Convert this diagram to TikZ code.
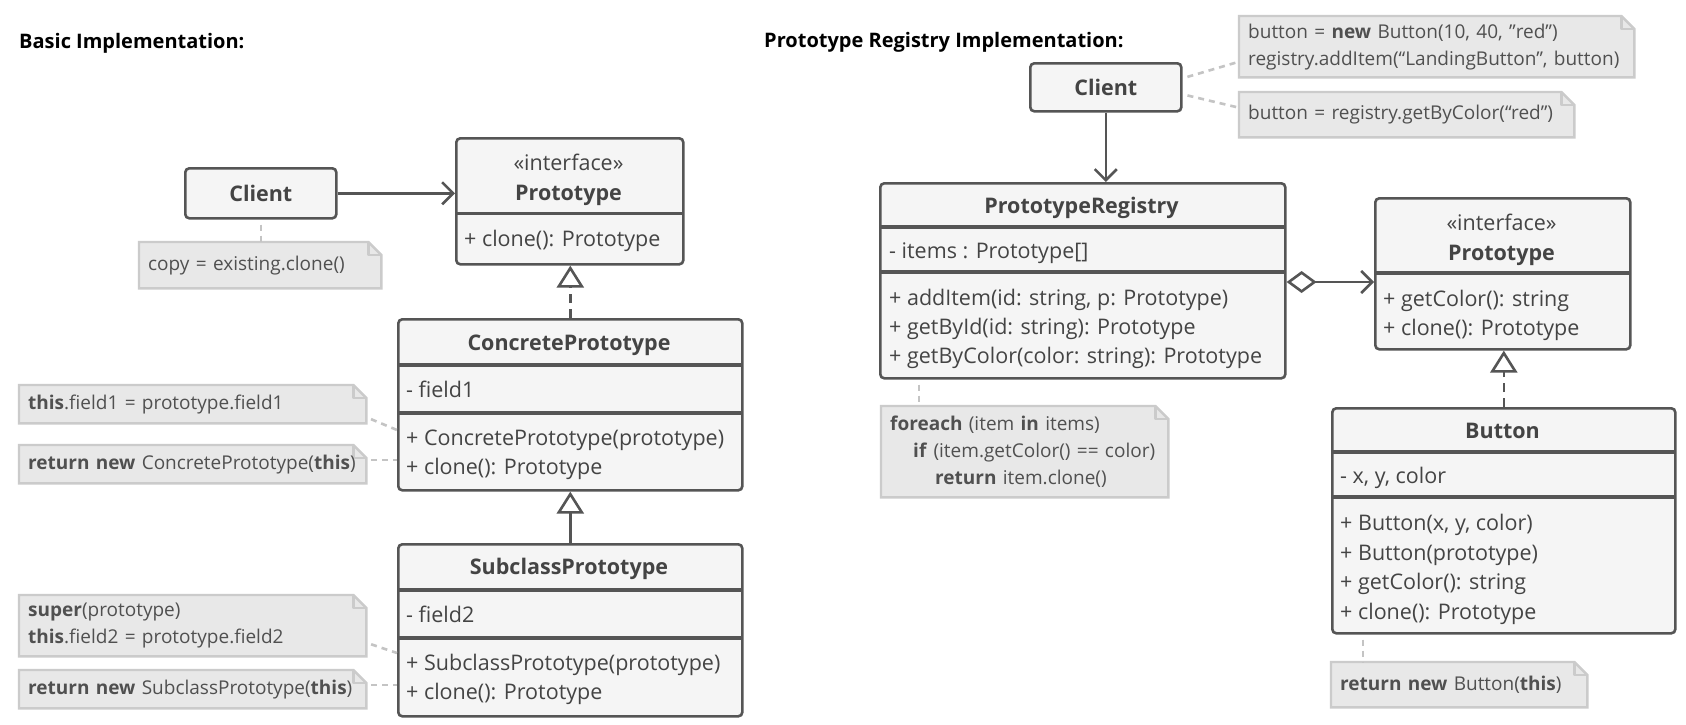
\documentclass[tikz,border=0pt]{standalone}
\usepackage{fontspec}
\setmainfont{Open Sans}
\usetikzlibrary{arrows.meta}
\pgfdeclarelayer{background}
\pgfsetlayers{background,main}
\definecolor{boxline}{HTML}{555555}
\definecolor{boxfill}{HTML}{F5F5F5}
\definecolor{boxtext}{HTML}{444444}
\definecolor{notefill}{HTML}{E8E8E8}
\definecolor{noteline}{HTML}{CBCBCB}
\definecolor{notetext}{HTML}{505050}
\definecolor{dotline}{HTML}{C4C4C4}
\newcommand\boxfont{\fontsize{21.5}{29}\selectfont}
\newcommand\notefont{\fontsize{19}{27}\selectfont}
\newcommand\notefold[1]{%
  \begin{pgfonlayer}{background}
  \draw[notebg] (#1.north west) -- ([xshift=-13pt]#1.north east) -- ([yshift=-13pt]#1.north east) -- (#1.south east) -- (#1.south west) -- cycle;
  \draw[notebg,fill=none,line join=round] ([xshift=-13pt]#1.north east) -- ([xshift=-13pt,yshift=-13pt]#1.north east) -- ([yshift=-13pt]#1.north east);
  \end{pgfonlayer}}
\begin{document}
\begin{tikzpicture}[x=1pt,y=-1pt,
  cls/.style={draw=boxline, fill=boxfill, line width=2.6pt, rounded corners=4pt, inner sep=0pt, anchor=north west},
  divider/.style={draw=boxline, line width=3.4pt},
  htxt/.style={inner sep=0pt, text height=0.71em, text depth=0pt, font=\boxfont\bfseries, text=boxtext, anchor=center, yshift=-5pt},
  mtxt/.style={inner sep=0pt, text height=0.71em, text depth=0pt, font=\boxfont, text=boxtext, anchor=west, yshift=-5pt},
  ctxt/.style={inner sep=0pt, text height=0.71em, text depth=0pt, font=\boxfont, text=boxtext, anchor=center, yshift=-5pt},
  note/.style={anchor=north west, inner xsep=9pt, inner ysep=0pt, align=left, font=\notefont, text=notetext},
  notebg/.style={draw=noteline, fill=notefill, line width=2.4pt},
  titletxt/.style={inner sep=0pt, anchor=west, font=\fontsize{20}{24}\selectfont\bfseries, text=black},
  assoc/.style={draw=boxline, line width=2.6pt, -{Straight Barb[length=11pt,width=22pt]}},
  inherit/.style={draw=boxline, line width=2.6pt, -{Triangle[open,length=22pt,width=27pt,fill=white]}},
  realize/.style={inherit, dash pattern=on 9pt off 6pt},
  aggr/.style={draw=boxline, line width=2.6pt, {Diamond[open,length=30pt,width=22pt,fill=white]}-{Straight Barb[length=11pt,width=22pt]}},
  noteconn/.style={draw=dotline, line width=2.6pt, dash pattern=on 6pt off 5pt, dash phase=6pt},
]
\begin{pgfonlayer}{background}
\fill[white] (0,0) rectangle (1686,724);
\end{pgfonlayer}
\useasboundingbox (0,0) rectangle (1686,724);

% ---------------- titles
\node[titletxt] (title1) at (19,43) {Basic Implementation:};
\node[titletxt] (title2) at (764,42) {Prototype Registry Implementation:};

% ---------------- left: Client
\node[cls, minimum width=151pt, minimum height=50pt] (clientL) at (184,167) {};
\node[htxt] (clientLt) at (clientL.center) {Client};

% ---------------- left: Prototype
\node[cls, minimum width=227pt, minimum height=126pt] (protoL) at (455,137) {};
\draw[divider] (455,213.5) -- (682,213.5);
\node[ctxt] (protoLs) at (568.5,162) {«interface»};
\node[htxt] (protoLh) at (568.5,192) {Prototype};
\node[mtxt] (protoLm1) at (464,238) {+ clone(): Prototype};

% ---------------- left: ConcretePrototype
\node[cls, minimum width=344pt, minimum height=171pt] (cp) at (397,318) {};
\draw[divider] (397,365) -- (741,365);
\draw[divider] (397,413) -- (741,413);
\node[htxt] (cph) at (569,341.5) {ConcretePrototype};
\node[mtxt] (cpf) at (406,389) {- field1};
\node[mtxt] (cpm1) at (406,437) {+ ConcretePrototype(prototype)};
\node[mtxt] (cpm2) at (406,466) {+ clone(): Prototype};

% ---------------- left: SubclassPrototype
\node[cls, minimum width=344pt, minimum height=172pt] (sp) at (397,543) {};
\draw[divider] (397,590) -- (741,590);
\draw[divider] (397,638) -- (741,638);
\node[htxt] (sph) at (569,566) {SubclassPrototype};
\node[mtxt] (spf) at (406,614) {- field2};
\node[mtxt] (spm1) at (406,662) {+ SubclassPrototype(prototype)};
\node[mtxt] (spm2) at (406,691) {+ clone(): Prototype};

% ---------------- left notes
\node[note, minimum width=242pt, minimum height=46pt, text width=224pt] (cn) at (139,242) {copy = existing.clone()};
\node[note, minimum width=347pt, minimum height=38pt, text width=329pt] (n1) at (19,385) {\textbf{this}.field1 = prototype.field1};
\node[note, minimum width=347pt, minimum height=38pt, text width=329pt] (n2) at (19,445) {\textbf{return new} ConcretePrototype(\textbf{this})};
\node[note, minimum width=347pt, minimum height=61pt, text width=329pt] (n3) at (19,595) {\textbf{super}(prototype)\\\textbf{this}.field2 = prototype.field2};
\node[note, minimum width=347pt, minimum height=38pt, text width=329pt] (n4) at (19,670) {\textbf{return new} SubclassPrototype(\textbf{this})};
\notefold{cn}\notefold{n1}\notefold{n2}\notefold{n3}\notefold{n4}

\coordinate (cpA) at (397,430);
\coordinate (cpB) at (397,460);
\coordinate (spA) at (397,653);
\coordinate (spB) at (397,685);

% ---------------- left connectors
\draw[assoc] (clientL.east) -- (clientL.east -| protoL.west);
\draw[realize] (cp.north) -- (cp.north |- protoL.south);
\draw[inherit] (sp.north) -- (cp.south);
\draw[noteconn] (clientL.south) -- (clientL.south |- cn.north);
\draw[noteconn] ([yshift=-13pt]n1.east) -- (cpA);
\draw[noteconn] (n2.east |- cpB) -- (cpB);
\draw[noteconn] ([yshift=-17pt]n3.east) -- (spA);
\draw[noteconn] (n4.east |- spB) -- (spB);

% ---------------- right: Client
\node[cls, minimum width=151pt, minimum height=48pt] (clientR) at (1029,62) {};
\node[htxt] (clientRt) at (clientR.center) {Client};

\node[note, minimum width=395pt, minimum height=61pt, text width=377pt] (noteA) at (1239,16) {button = \textbf{new} Button(10, 40, \symbol{34}red\symbol{34})\\registry.addItem(“LandingButton”, button)};
\node[note, minimum width=335pt, minimum height=45pt, text width=317pt] (noteB) at (1239,92) {button = registry.getByColor(“red”)};
\notefold{noteA}\notefold{noteB}

% ---------------- right: PrototypeRegistry
\node[cls, minimum width=405pt, minimum height=195pt] (reg) at (879,182) {};
\draw[divider] (879,227) -- (1284,227);
\draw[divider] (879,272) -- (1284,272);
\node[htxt] (regh) at (1081.5,204.5) {PrototypeRegistry};
\node[mtxt] (regf) at (889,249.5) {- items : Prototype[]};
\node[mtxt] (regm1) at (889,297) {+ addItem(id: string, p: Prototype)};
\node[mtxt] (regm2) at (889,326) {+ getById(id: string): Prototype};
\node[mtxt] (regm3) at (889,355) {+ getByColor(color: string): Prototype};

% ---------------- right: Prototype
\node[cls, minimum width=255pt, minimum height=151pt] (protoR) at (1374,197) {};
\draw[divider] (1374,273) -- (1629,273);
\node[ctxt] (protoRs) at (1501.5,222) {«interface»};
\node[htxt] (protoRh) at (1501.5,252) {Prototype};
\node[mtxt] (protoRm1) at (1383,298) {+ getColor(): string};
\node[mtxt] (protoRm2) at (1383,327) {+ clone(): Prototype};

% ---------------- right: Button
\node[cls, minimum width=343pt, minimum height=225pt] (button) at (1331,407) {};
\draw[divider] (1331,452) -- (1674,452);
\draw[divider] (1331,497) -- (1674,497);
\node[htxt] (buttonh) at (1502.5,429.5) {Button};
\node[mtxt] (buttonf) at (1340,474.5) {- x, y, color};
\node[mtxt] (buttonm1) at (1340,522) {+ Button(x, y, color)};
\node[mtxt] (buttonm2) at (1340,551.5) {+ Button(prototype)};
\node[mtxt] (buttonm3) at (1340,581) {+ getColor(): string};
\node[mtxt] (buttonm4) at (1340,610.5) {+ clone(): Prototype};

% ---------------- right notes
\node[note, minimum width=287pt, minimum height=91pt, text width=269pt] (noteC) at (881,406) {\textbf{foreach} (item \textbf{in} items)\\\hspace*{23pt}\textbf{if} (item.getColor() == color)\\\hspace*{45pt}\textbf{return} item.clone()};
\node[note, minimum width=256pt, minimum height=45pt, text width=238pt] (noteD) at (1331,662) {\textbf{return new} Button(\textbf{this})};
\notefold{noteC}\notefold{noteD}

\coordinate (aggY) at (0,282);
\coordinate (cX) at (919,0);
\coordinate (dX) at (1363,0);

% ---------------- right connectors
\draw[assoc] (clientR.south) -- (clientR.south |- reg.north);
\draw[noteconn] ([yshift=9pt]clientR.east) -- ([yshift=-15pt]noteA.west);
\draw[noteconn] ([yshift=-7pt]clientR.east) -- ([yshift=7pt]noteB.west);
\draw[aggr] (reg.east |- aggY) -- (protoR.west |- aggY);
\draw[realize] (button.north) -- (button.north |- protoR.south);
\draw[noteconn] (reg.south -| cX) -- (noteC.north -| cX);
\draw[noteconn] (button.south -| dX) -- (noteD.north -| dX);
\end{tikzpicture}
\end{document}
